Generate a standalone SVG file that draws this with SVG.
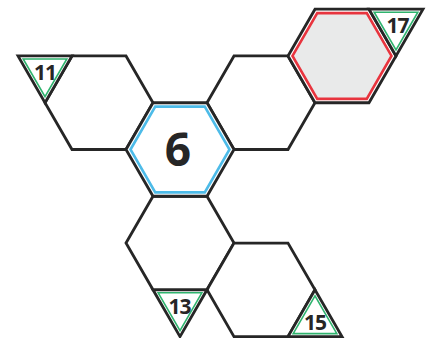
<svg xmlns="http://www.w3.org/2000/svg" xmlns:xlink="http://www.w3.org/1999/xlink" width="432" height="338" viewBox="0 0 432 338">
  <style>
    .hex { fill: #ffffff; stroke: #262626; stroke-width: 2.8; stroke-linejoin: miter; }
    .tri { fill: #ffffff; stroke: #262626; stroke-width: 2.8; stroke-linejoin: miter; }
    .tri-in { fill: none; stroke: #2fb36e; stroke-width: 1.6; stroke-linejoin: miter; }
    .blue { fill: none; stroke: #4dbbe8; stroke-width: 2.6; }
    .red { fill: #e9eaea; stroke: #e8343e; stroke-width: 2.6; }
    .lbl { font-family: "Open Sans", "DejaVu Sans", sans-serif; font-weight: 700; font-size: 21px; fill: #262626; text-anchor: middle; letter-spacing: -1px; }
    .big { font-family: "Open Sans", "DejaVu Sans", sans-serif; font-weight: 700; font-size: 46px; fill: #262626; text-anchor: middle; }
  </style>
  <defs>
    <polygon id="hexOuter" points="-54,0 -27,-46.77 27,-46.77 54,0 27,46.77 -27,46.77"/>
    <polygon id="hexInner" points="-49.5,0 -24.75,-42.87 24.75,-42.87 49.5,0 24.75,42.87 -24.75,42.87"/>
  </defs>
  <rect width="432" height="338" fill="#ffffff"/>

  <g id="connectors"></g>

  <g id="hex-left">
    <use xlink:href="#hexOuter" class="hex" transform="translate(99,102.73)"/>
  </g>
  <g id="hex-right">
    <use xlink:href="#hexOuter" class="hex" transform="translate(261,102.73)"/>
  </g>
  <g id="hex-bottom">
    <use xlink:href="#hexOuter" class="hex" transform="translate(180,243.04)"/>
  </g>
  <g id="hex-bottom-right">
    <use xlink:href="#hexOuter" class="hex" transform="translate(261,289.81)"/>
  </g>
  <g id="hex-17">
    <use xlink:href="#hexOuter" class="hex" transform="translate(342,55.96)"/>
    <use xlink:href="#hexInner" class="red" transform="translate(342,55.96)"/>
  </g>
  <g id="hex-6">
    <use xlink:href="#hexOuter" class="hex" transform="translate(180,149.5)"/>
    <use xlink:href="#hexInner" class="blue" transform="translate(180,149.5)"/>
    <text class="big" x="178" y="166">6</text>
  </g>

  <g id="tri-11">
    <polygon class="tri" points="18,55.96 72,55.96 45,102.73"/>
    <polygon class="tri-in" points="23.19,58.96 66.81,58.96 45,96.73"/>
    <text class="lbl" x="45" y="80">11</text>
  </g>
  <g id="tri-17">
    <polygon class="tri" points="369,9.19 423,9.19 396,55.96"/>
    <polygon class="tri-in" points="374.19,12.19 417.81,12.19 396,49.96"/>
    <text class="lbl" x="397.5" y="33">17</text>
  </g>
  <g id="tri-13">
    <polygon class="tri" points="153,289.81 207,289.81 180,336.58"/>
    <polygon class="tri-in" points="158.19,292.81 201.81,292.81 180,330.58"/>
    <text class="lbl" x="179.5" y="314">13</text>
  </g>
  <g id="tri-15">
    <polygon class="tri" points="315,289.81 288,336.58 342,336.58"/>
    <polygon class="tri-in" points="315,295.81 293.19,333.58 336.81,333.58"/>
    <text class="lbl" x="315" y="330">15</text>
  </g>
</svg>
